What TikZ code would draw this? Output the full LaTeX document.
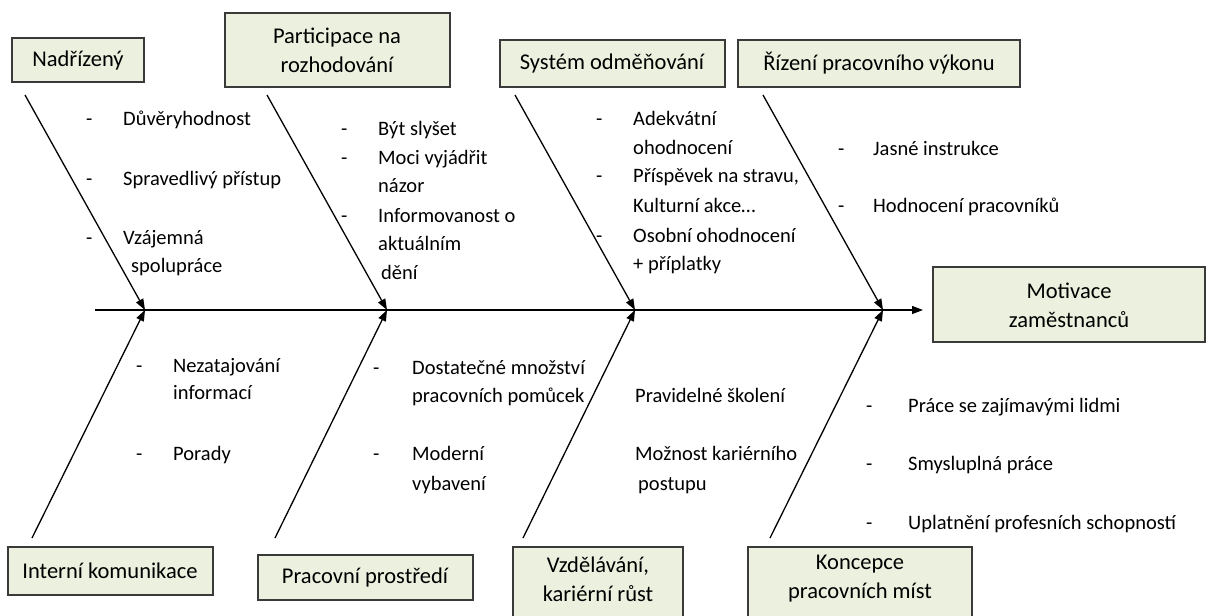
\documentclass[tikz,border=0pt]{standalone}
\usepackage{fontspec}
\setmainfont{Carlito}
\usetikzlibrary{arrows.meta}
\definecolor{boxfill}{HTML}{EBF1DE}
\definecolor{boxline}{HTML}{3A3A3A}
\begin{document}
\begin{tikzpicture}[x=1pt,y=-1pt,
  catbox/.style={draw=boxline, line width=1.3pt, fill=boxfill},
  boxtext/.style={font=\fontsize{22.5}{29}\selectfont, align=center, inner sep=0pt},
  itemtext/.style={font=\fontsize{20.5}{28}\selectfont, anchor=base west, inner sep=0pt},
  bone/.style={line width=1.3pt, -{Triangle[length=11pt,width=8pt]}},
]
\useasboundingbox (0,0) rectangle (1208,616);
\clip (0,0) rectangle (1208,616);
\fill[white] (0,0) rectangle (1208,616);

% ---- boxes ----
\draw[catbox] (12,38) rectangle (144,82);
\node[boxtext] (nad) at (78,60) {Nadřízený};
\draw[catbox] (225,13) rectangle (450,87);
\node[boxtext] (par) at (337,50) {Participace na\\rozhodování};
\draw[catbox] (500,40) rectangle (725,87);
\node[boxtext] (sys) at (612,63) {Systém odměňování};
\draw[catbox] (738,40) rectangle (1020,87);
\node[boxtext] (riz) at (879,63) {Řízení pracovního výkonu};
\draw[catbox] (933,267) rectangle (1205,342);
\node[boxtext] (mot) at (1069,305) {Motivace\\zaměstnanců};
\draw[catbox] (8,547) rectangle (213,595);
\node[boxtext] (int) at (110,571) {Interní komunikace};
\draw[catbox] (258,555) rectangle (473,600);
\node[boxtext] (pra) at (365,577) {Pracovní prostředí};
\draw[catbox] (513,547) rectangle (683,640);
\node[boxtext] (vzd) at (598,579) {Vzdělávání,\\kariérní růst};
\draw[catbox] (748,547) rectangle (972,640);
\node[boxtext] (kon) at (860,579) {Koncepce\\pracovních míst};

% ---- coordinates ----
\coordinate (s0) at (95,310);
\coordinate (tip) at (923,310);
\coordinate (j1) at (145,310);
\coordinate (j2) at (387,310);
\coordinate (j3) at (635,310);
\coordinate (j4) at (883,310);
\coordinate (u1) at (25,95);
\coordinate (u2) at (267,95);
\coordinate (u3) at (515,95);
\coordinate (u4) at (763,95);
\coordinate (l1) at (32,538);
\coordinate (l2) at (275,538);
\coordinate (l3) at (523,538);
\coordinate (l4) at (770,538);

% ---- bones ----
\draw[bone] (s0) -- (tip);
\foreach \i in {1,2,3,4}{
  \draw[bone] (u\i) -- (j\i);
  \draw[bone] (l\i) -- (j\i);
}

% ---- items: Nadřízený ----
\node[itemtext] (a1d) at (86,125) {-};
\node[itemtext] (a1) at (123,125) {Důvěryhodnost};
\node[itemtext] (a2d) at (86,185) {-};
\node[itemtext] (a2) at (123,185) {Spravedlivý přístup};
\node[itemtext] (a3d) at (86,244) {-};
\node[itemtext] (a3) at (123,244) {Vzájemná};
\node[itemtext] (a4) at (131,272) {spolupráce};

% ---- items: Participace ----
\node[itemtext] (b1d) at (341,135) {-};
\node[itemtext] (b1) at (378,135) {Být slyšet};
\node[itemtext] (b2d) at (341,164) {-};
\node[itemtext] (b2) at (378,164) {Moci vyjádřit};
\node[itemtext] (b3) at (378,192) {názor};
\node[itemtext] (b4d) at (341,222) {-};
\node[itemtext] (b4) at (378,222) {Informovanost o};
\node[itemtext] (b5) at (378,250) {aktuálním};
\node[itemtext] (b6) at (381,279) {dění};

% ---- items: Systém odměňování ----
\node[itemtext] (c1d) at (596,125) {-};
\node[itemtext] (c1) at (633,125) {Adekvátní};
\node[itemtext] (c2) at (633,154) {ohodnocení};
\node[itemtext] (c3d) at (596,182) {-};
\node[itemtext] (c3) at (633,182) {Příspěvek na stravu,};
\node[itemtext] (c4) at (633,212) {Kulturní akce…};
\node[itemtext] (c5d) at (596,242) {-};
\node[itemtext] (c5) at (633,242) {Osobní ohodnocení};
\node[itemtext] (c6) at (633,270) {+ příplatky};

% ---- items: Řízení ----
\node[itemtext] (d1d) at (838,155) {-};
\node[itemtext] (d1) at (873,155) {Jasné instrukce};
\node[itemtext] (d2d) at (838,212) {-};
\node[itemtext] (d2) at (873,212) {Hodnocení pracovníků};

% ---- items: Interní komunikace ----
\node[itemtext] (e1d) at (136,372) {-};
\node[itemtext] (e1) at (173,372) {Nezatajování};
\node[itemtext] (e2) at (173,399) {informací};
\node[itemtext] (e3d) at (136,460) {-};
\node[itemtext] (e3) at (173,460) {Porady};

% ---- items: Pracovní prostředí ----
\node[itemtext] (f1d) at (373,374) {-};
\node[itemtext] (f1) at (412,374) {Dostatečné množství};
\node[itemtext] (f2) at (412,402) {pracovních pomůcek};
\node[itemtext] (f3d) at (373,460) {-};
\node[itemtext] (f3) at (412,460) {Moderní};
\node[itemtext] (f4) at (412,490) {vybavení};

% ---- items: Vzdělávání ----
\node[itemtext] (g1) at (635,402) {Pravidelné školení};
\node[itemtext] (g2) at (635,460) {Možnost kariérního};
\node[itemtext] (g3) at (638,490) {postupu};

% ---- items: Koncepce ----
\node[itemtext] (h1d) at (866,412) {-};
\node[itemtext] (h1) at (908,412) {Práce se zajímavými lidmi};
\node[itemtext] (h2d) at (866,470) {-};
\node[itemtext] (h2) at (908,470) {Smysluplná práce};
\node[itemtext] (h3d) at (866,529) {-};
\node[itemtext] (h3) at (908,529) {Uplatnění profesních schopností};
\end{tikzpicture}
\end{document}
